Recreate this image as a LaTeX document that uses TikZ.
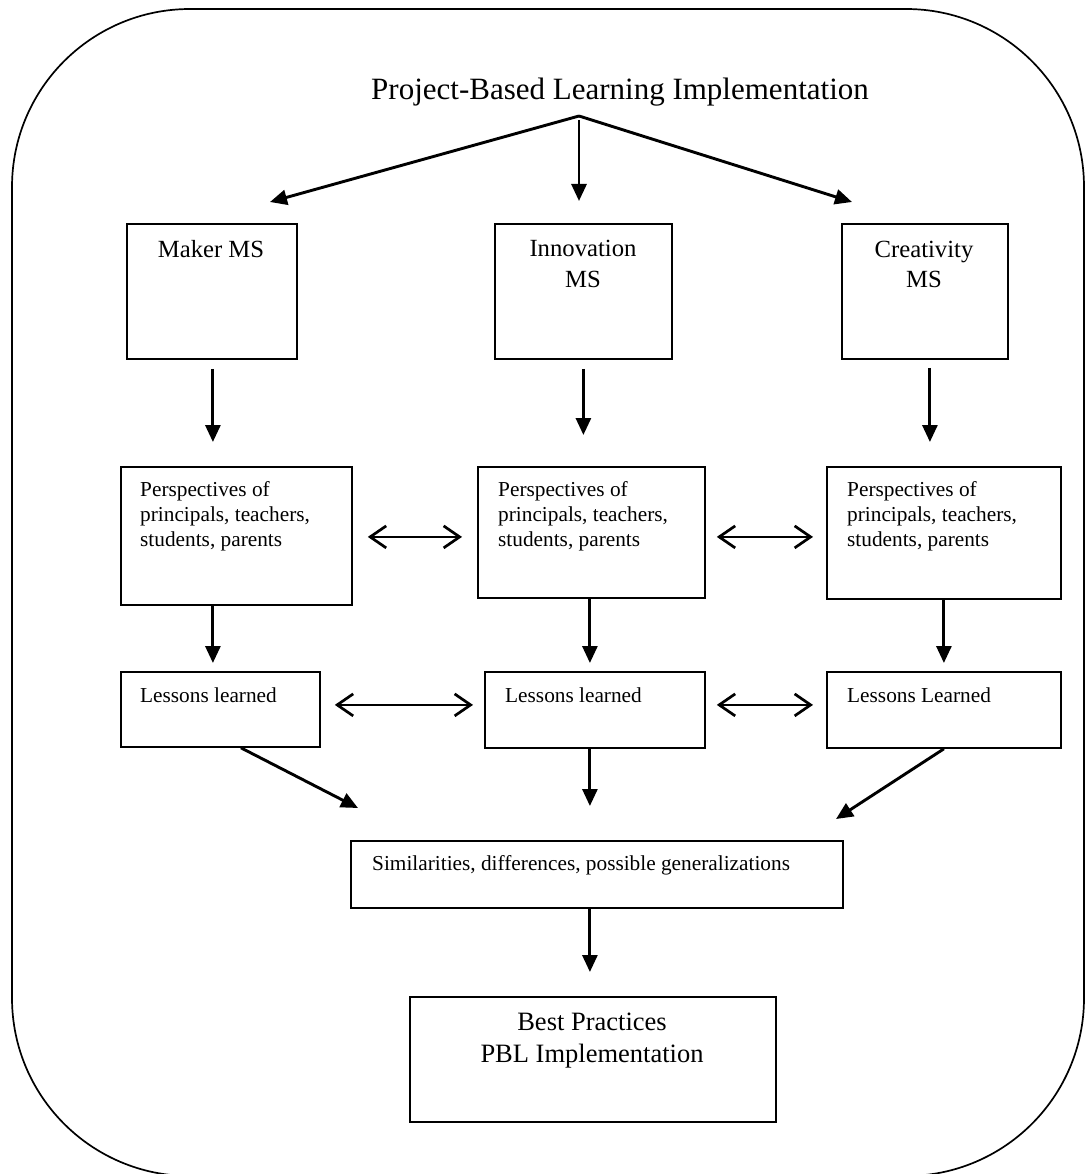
\documentclass[tikz,border=0pt]{standalone}
\usepackage{fontspec}
\setmainfont{Liberation Serif}
\usetikzlibrary{arrows.meta}
\begin{document}
\begin{tikzpicture}[x=1pt,y=-1pt,
  box/.style={draw, line width=1.8pt, inner sep=0pt, anchor=north west},
  arr/.style={line width=2.9pt, -{Triangle[length=17pt,width=15pt]}},
  dbl/.style={line width=2.7pt, {Straight Barb[length=16pt,width=22pt]}-{Straight Barb[length=16pt,width=22pt]}},
  ttl/.style={inner sep=0pt, anchor=base, font=\fontsize{31}{37}\selectfont},
  ms/.style={inner sep=0pt, anchor=base, font=\fontsize{24.7}{31}\selectfont},
  bp/.style={inner sep=0pt, anchor=base, font=\fontsize{26.5}{32}\selectfont},
  sm/.style={inner sep=0pt, anchor=base west, font=\fontsize{21.3}{25}\selectfont}
]
\useasboundingbox (0,0) rectangle (1085,1174);
\begin{scope}
  \clip (0,0) rectangle (1085,1174);
  \draw[line width=1.7pt, rounded corners=178pt] (12,9) rectangle (1084,1176);
\end{scope}

% title and top arrows
\node[ttl] (title) at (620,100) {Project-Based Learning Implementation};
\coordinate (apex) at (579,116);
\coordinate (tipL) at (270,202);
\coordinate (tipM) at (579,201);
\coordinate (tipR) at (852,202);
\draw[arr] (apex) -- (tipL);
\draw[arr] (apex) -- (tipR);
\draw[arr] (apex) ++(0,4) -- (tipM);

% school boxes
\node[box, minimum width=170pt, minimum height=135pt] (maker) at (126,223) {};
\node[box, minimum width=177pt, minimum height=135pt] (innov) at (494,223) {};
\node[box, minimum width=166pt, minimum height=135pt] (creat) at (841,223) {};
\node[ms] (makerT) at (211,257) {Maker MS};
\node[ms] (innovT) at (583,256) {\begin{tabular}[t]{@{}c@{}}Innovation\\MS\end{tabular}};
\node[ms] (creatT) at (924,257) {\begin{tabular}[t]{@{}c@{}}Creativity\\MS\end{tabular}};

% perspectives boxes
\node[box, minimum width=231pt, minimum height=138pt] (persL) at (120,466) {};
\node[box, minimum width=227pt, minimum height=131pt] (persM) at (477,466) {};
\node[box, minimum width=234pt, minimum height=132pt] (persR) at (826,466) {};
\node[sm] (persLT) at (140,496) {\begin{tabular}[t]{@{}l@{}}Perspectives of\\principals, teachers,\\students, parents\end{tabular}};
\node[sm] (persMT) at (498,496) {\begin{tabular}[t]{@{}l@{}}Perspectives of\\principals, teachers,\\students, parents\end{tabular}};
\node[sm] (persRT) at (847,496) {\begin{tabular}[t]{@{}l@{}}Perspectives of\\principals, teachers,\\students, parents\end{tabular}};

% lessons boxes
\node[box, minimum width=199pt, minimum height=75pt] (lesL) at (120,671) {};
\node[box, minimum width=220pt, minimum height=76pt] (lesM) at (484,671) {};
\node[box, minimum width=234pt, minimum height=76pt] (lesR) at (826,671) {};
\node[sm] (lesLT) at (140,702) {Lessons learned};
\node[sm] (lesMT) at (505,702) {Lessons learned};
\node[sm] (lesRT) at (847,702) {Lessons Learned};

% synthesis boxes
\node[box, minimum width=492pt, minimum height=67pt] (sim) at (350,840) {};
\node[sm] (simT) at (372,870) {Similarities, differences, possible generalizations};
\node[box, minimum width=366pt, minimum height=125pt] (best) at (409,996) {};
\node[bp] (bestT) at (592,1030) {\begin{tabular}[t]{@{}c@{}}Best Practices\\PBL Implementation\end{tabular}};

% vertical arrows
\draw[arr, shorten <=9pt, shorten >=24pt] ([xshift=1pt]maker.south) -- ([xshift=1pt]maker.south |- persL.north);
\draw[arr, shorten <=9pt, shorten >=31pt] (innov.south) -- (innov.south |- persM.north);
\draw[arr, shorten <=8pt, shorten >=24pt] ([xshift=5pt]creat.south) -- ([xshift=5pt]creat.south |- persR.north);
\draw[arr, shorten >=8pt] ([xshift=-23.5pt]persL.south) -- ([xshift=-23.5pt]persL.south |- lesL.north);
\draw[arr, shorten >=8pt] ([xshift=-1.5pt]persM.south) -- ([xshift=-1.5pt]persM.south |- lesM.north);
\draw[arr, shorten >=8pt] (persR.south) -- (persR.south |- lesR.north);

% horizontal double arrows
\draw[dbl, shorten <=15pt, shorten >=15pt] ([yshift=-1pt]persL.east) -- ([yshift=-1pt]persL.east -| persM.west);
\draw[dbl, shorten <=11pt, shorten >=13pt] ([yshift=-1pt]persL.east -| persM.east) -- ([yshift=-1pt]persL.east -| persR.west);
\draw[dbl, shorten <=14pt, shorten >=11pt] ([yshift=4.5pt]lesL.east) -- ([yshift=4.5pt]lesL.east -| lesM.west);
\draw[dbl, shorten <=11pt, shorten >=13pt] ([yshift=4.5pt]lesL.east -| lesM.east) -- ([yshift=4.5pt]lesL.east -| lesR.west);

% converging arrows
\coordinate (convL) at (358,808);
\coordinate (convR) at (836,819);
\draw[arr] ([xshift=20.5pt]lesL.south) -- (convL);
\draw[arr, shorten >=34pt] ([xshift=-5pt]lesM.south) -- ([xshift=-5pt]lesM.south |- sim.north);
\draw[arr] (lesR.south) -- (convR);
\draw[arr, shorten >=24pt] ([xshift=-7pt]sim.south) -- ([xshift=-7pt]sim.south |- best.north);
\end{tikzpicture}
\end{document}
